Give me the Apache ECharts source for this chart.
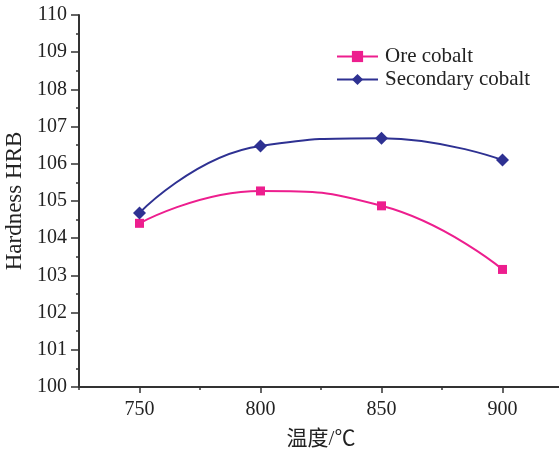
<!DOCTYPE html>
<html>
<head>
<meta charset="utf-8">
<script src="https://cdn.jsdelivr.net/npm/echarts@6/dist/echarts.min.js"></script>
<style>html,body{margin:0;padding:0;background:#fff}#c{width:559px;height:450px}</style>
</head>
<body>
<div id="c"></div>
<script>
var temps = [750, 800, 850, 900];
var oreCobalt = [104.40, 105.27, 104.87, 103.16];
var secondaryCobalt = [104.68, 106.48, 106.69, 106.10];
var xMajorTicks = [750, 800, 850, 900];
var xMinorTicks = [725, 775, 825, 875];
var seriesNames = ['Ore cobalt', 'Secondary cobalt'];

var font = '"Liberation Serif", "Times New Roman", "Noto Sans CJK SC", serif';
var axisColor = '#333333';
function pairs(xs, ys) { return xs.map(function (x, i) { return [x, ys[i]]; }); }

var chart = echarts.init(document.getElementById('c'), null, { renderer: 'canvas' });
chart.setOption({
  animation: false,
  backgroundColor: '#ffffff',
  grid: { left: 79, top: 15, width: 484, height: 372, containLabel: false, outerBoundsMode: 'none' },
  legend: {
    orient: 'vertical',
    left: 336,
    top: 46,
    padding: 0,
    itemWidth: 41,
    itemHeight: 14,
    itemGap: 2,
    textStyle: { fontFamily: font, fontSize: 21, color: '#222', padding: [0, 0, 0, 2] },
    data: seriesNames
  },
  xAxis: [{
    type: 'value',
    min: 725,
    max: 925,
    interval: 25,
    name: '温度/℃',
    nameLocation: 'middle',
    nameGap: 42,
    nameTextStyle: { fontFamily: font, fontSize: 21, color: '#222' },
    axisLine: { show: true, lineStyle: { color: axisColor, width: 2 } },
    axisTick: { show: true, customValues: xMajorTicks, length: 6, lineStyle: { color: axisColor, width: 1.5 } },
    axisLabel: { customValues: xMajorTicks, fontFamily: font, fontSize: 20, color: '#222', margin: 13 },
    splitLine: { show: false }
  }, {
    type: 'value',
    min: 725,
    max: 925,
    interval: 25,
    position: 'bottom',
    axisLine: { show: false },
    axisTick: { show: true, customValues: xMinorTicks, length: 3, lineStyle: { color: axisColor, width: 1.5 } },
    axisLabel: { show: false },
    splitLine: { show: false }
  }],
  yAxis: {
    type: 'value',
    min: 100,
    max: 110,
    interval: 1,
    name: 'Hardness HRB',
    nameLocation: 'middle',
    nameGap: 50,
    nameRotate: 90,
    nameTextStyle: { fontFamily: font, fontSize: 23, color: '#222' },
    axisLine: { show: true, lineStyle: { color: axisColor, width: 2 } },
    axisTick: { show: true, length: 8, lineStyle: { color: axisColor, width: 1.5 } },
    minorTick: { show: true, splitNumber: 2, length: 3, lineStyle: { color: axisColor, width: 1.5 } },
    axisLabel: { fontFamily: font, fontSize: 20, color: '#222', margin: 12 },
    splitLine: { show: false },
    minorSplitLine: { show: false }
  },
  series: [{
    name: seriesNames[0],
    type: 'line',
    data: pairs(temps, oreCobalt),
    smooth: 0.5,
    symbol: 'rect',
    symbolSize: 9,
    itemStyle: { color: '#ED1E8E' },
    lineStyle: { color: '#ED1E8E', width: 2 }
  }, {
    name: seriesNames[1],
    type: 'line',
    data: pairs(temps, secondaryCobalt),
    smooth: 0.5,
    symbol: 'diamond',
    symbolSize: 13,
    itemStyle: { color: '#2E3192' },
    lineStyle: { color: '#2E3192', width: 2 }
  }]
});
</script>
</body>
</html>
